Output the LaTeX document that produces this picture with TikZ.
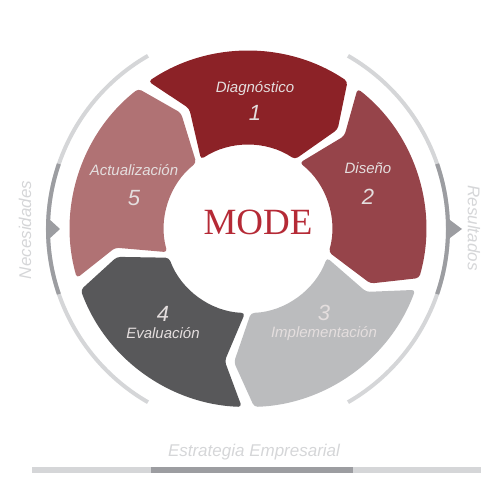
\documentclass[tikz,border=0pt]{standalone}
\usepackage{fontspec}
\setmainfont{Liberation Sans}
\newfontfamily\modefont{Liberation Serif}
\usetikzlibrary{positioning}
\definecolor{segA}{HTML}{8C2227}
\definecolor{segB}{HTML}{96444A}
\definecolor{segC}{HTML}{BBBCBE}
\definecolor{segD}{HTML}{58585A}
\definecolor{segE}{HTML}{B07274}
\definecolor{ringlight}{HTML}{D5D6D8}
\definecolor{ringdark}{HTML}{9C9DA1}
\definecolor{labelcol}{HTML}{E4DEDE}
\definecolor{modered}{HTML}{B52A36}
\begin{document}
\begin{tikzpicture}[x=1pt,y=1pt,node distance=24pt,on grid,
		seglabel/.style={font=\fontsize{15}{15}\selectfont\itshape,text=labelcol,inner sep=0pt},
		segnum/.style={font=\fontsize{22}{22}\selectfont\itshape,text=labelcol,inner sep=0pt},
		sidelabel/.style={font=\fontsize{17}{17}\selectfont\itshape,text=ringlight,inner sep=0pt},
		ring/.style={line width=4pt}]
		\useasboundingbox (-248,-271) rectangle (252,229);
		
		\foreach \c/\col in {90/segA,18/segB,-54/segC,-126/segD,162/segE}
		\fill[\col,rounded corners=3.5pt] ({\c+34}:178pt) arc[start angle=\c+34,end angle=\c-34,radius=178pt]
		-- ({\c-42}:134pt) -- ({\c-34}:84pt) arc[start angle=\c-34,end angle=\c+34,radius=84pt]
		-- ({\c+26}:134pt) -- cycle;
		
		\draw[ring,ringlight] (60:200pt) arc[start angle=60,end angle=-60,radius=200pt];
		\draw[ring,ringlight] (120:200pt) arc[start angle=120,end angle=240,radius=200pt];
		\draw[ring,ringdark] (19:200pt) arc[start angle=19,end angle=-19,radius=200pt];
		\draw[ring,ringdark] (161:200pt) arc[start angle=161,end angle=199,radius=200pt];
		\fill[ringdark] (3.3:199pt) -- (0:214pt) -- (-3.3:199pt) -- cycle;
		\fill[ringdark] (176.7:201pt) -- (180:188pt) -- (183.3:201pt) -- cycle;
		
		\node[font=\fontsize{37}{37}\selectfont\modefont,text=modered] (mode) at (10,7) {MODE};
		
		\node[seglabel] (diag)  at (7,140)    {Diagnóstico};
		\node[segnum]   (n1)    [below=of diag] {1};
		\node[seglabel] (dis)   at (120,61)   {Diseño};
		\node[segnum]   (n2)    [below=29pt of dis] {2};
		\node[seglabel] (impl)  at (76,-105)  {Implementación};
		\node[segnum]   (n3)    [above=21pt of impl] {3};
		\node[seglabel] (eval)  at (-85,-104) {Evaluación};
		\node[segnum]   (n4)    [above=19pt of eval] {4};
		\node[seglabel] (act)   at (-114,59)  {Actualización};
		\node[segnum]   (n5)    [below=28pt of act] {5};
		
		\node[sidelabel,rotate=90]  (nec) at (-223,-1) {Necesidades};
		\node[sidelabel,rotate=-90] (res) at (226,1)   {Resultados};
		\node[sidelabel] (estr) at (6,-223) {Estrategia Empresarial};
		
		\fill[ringlight] (-216,-244) rectangle (233,-238);
		\fill[ringdark]  (-97,-244) rectangle (105,-238);
\end{tikzpicture}
\end{document}
